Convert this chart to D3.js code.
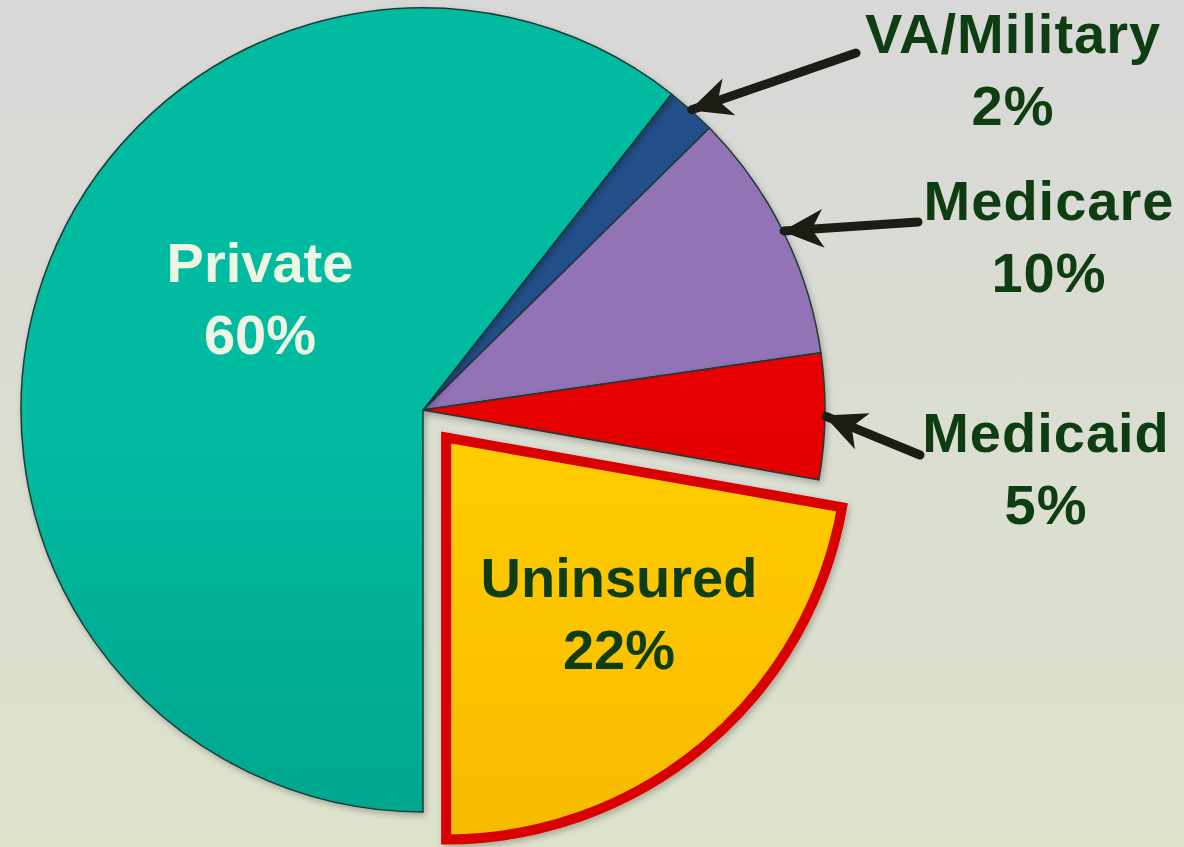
<!DOCTYPE html>
<html>
<head>
<meta charset="utf-8">
<title>Health coverage</title>
<script src="https://d3js.org/d3.v7.min.js"></script>
<style>
  html, body { margin: 0; padding: 0; }
  body { width: 1184px; height: 847px; overflow: hidden; }
  text { font-family: "Liberation Sans", Arial, sans-serif; font-weight: bold; }
</style>
</head>
<body>
<div id="container"></div>
<script>
// Data
const categories = ["VA/Military", "Medicare", "Medicaid", "Uninsured", "Private"]
const shares = [2, 10, 5, 22, 60]
const shareLabels = ["2%", "10%", "5%", "22%", "60%"]

const w = 1184
const h = 847
const cx = 423
const cy = 410
const r = 402

const svg = d3.select("#container")
    .append("svg")
    .attr("width", w)
    .attr("height", h)

const defs = svg.append("defs")

// background gradient
const bg = defs.append("linearGradient").attr("id", "bg")
    .attr("x1", 0).attr("y1", 0).attr("x2", 0).attr("y2", 1)
bg.append("stop").attr("offset", "0%").attr("stop-color", "#d8d8d8")
bg.append("stop").attr("offset", "100%").attr("stop-color", "#dde3cb")

svg.append("rect").attr("width", w).attr("height", h).attr("fill", "url(#bg)")

// slice gradients (top -> bottom)
const sliceColors = {
    "VA/Military": ["#23508a", "#1c3f70"],
    "Medicare": ["#9273b6", "#785a98"],
    "Medicaid": ["#e60000", "#c80000"],
    "Uninsured": ["#ffcc00", "#efa800"],
    "Private": ["#00bba0", "#00917c"]
}
categories.forEach((c, i) => {
    const g = defs.append("linearGradient").attr("id", "grad" + i)
        .attr("gradientUnits", "userSpaceOnUse")
        .attr("x1", 0).attr("y1", cy - r).attr("x2", 0).attr("y2", cy + r)
    g.append("stop").attr("offset", "0%").attr("stop-color", sliceColors[c][0])
    g.append("stop").attr("offset", "100%").attr("stop-color", sliceColors[c][1])
})

const shadow = defs.append("filter").attr("id", "shadow")
    .attr("x", "-10%").attr("y", "-10%").attr("width", "120%").attr("height", "120%")
shadow.append("feDropShadow").attr("dx", 2).attr("dy", 3).attr("stdDeviation", 3)
    .attr("flood-color", "#000").attr("flood-opacity", 0.25)

const total = d3.sum(shares)
const start = Math.PI - d3.sum(shares.slice(0, 4)) / total * 2 * Math.PI

const pie = d3.pie()
    .sort(null)
    .value(d => d.value)
    .startAngle(start)
    .endAngle(start + 2 * Math.PI)

const data = categories.map((c, i) => ({ name: c, value: shares[i], label: shareLabels[i], idx: i }))
const arcs = pie(data)
const arc = d3.arc().innerRadius(0).outerRadius(r)

const pieG = svg.append("g").attr("transform", `translate(${cx},${cy})`)

const explode = 36
pieG.selectAll("path")
    .data(arcs)
    .enter()
    .append("path")
    .attr("d", arc)
    .attr("transform", d => {
        if (d.data.name !== "Uninsured") return null
        const a = (d.startAngle + d.endAngle) / 2
        return `translate(${Math.sin(a) * explode},${-Math.cos(a) * explode})`
    })
    .attr("fill", d => `url(#grad${d.data.idx})`)
    .attr("stroke", d => d.data.name === "Uninsured" ? "#d80000" : "#1d3a35")
    .attr("stroke-width", d => d.data.name === "Uninsured" ? 10 : 1.5)
    .attr("stroke-linejoin", "miter")
    .attr("filter", "url(#shadow)")

// labels inside slices
const inner = [
    { name: "Private", x: 260, y: 282, color: "#eef5e2" },
    { name: "Uninsured", x: 619, y: 597, color: "#0f3d12" }
]
inner.forEach(t => {
    const d = data.find(e => e.name === t.name)
    const tx = svg.append("text")
        .attr("x", t.x).attr("y", t.y)
        .attr("text-anchor", "middle")
        .attr("fill", t.color)
        .style("font-size", "56px")
    tx.append("tspan").attr("x", t.x).text(d.name)
    tx.append("tspan").attr("x", t.x).attr("dy", 72).text(d.label)
})

// outside labels with arrows
const outside = [
    { name: "VA/Military", x: 1013, y: 53, tail: [856, 53] },
    { name: "Medicare", x: 1049, y: 220, tail: [918, 222] },
    { name: "Medicaid", x: 1046, y: 452, tail: [920, 455] }
]

defs.append("marker").attr("id", "head")
    .attr("viewBox", "0 0 10 10")
    .attr("refX", 9.5).attr("refY", 5)
    .attr("markerWidth", 4.6).attr("markerHeight", 4.6)
    .attr("orient", "auto")
    .attr("markerUnits", "strokeWidth")
    .append("path").attr("d", "M0,0.3 L10,5 L0,9.7 L2.8,5 Z").attr("fill", "#1c1c14")

outside.forEach(t => {
    const a = arcs.find(e => e.data.name === t.name)
    const m = (a.startAngle + a.endAngle) / 2
    const tip = [cx + Math.sin(m) * (r + 1), cy - Math.cos(m) * (r + 1)]
    svg.append("line")
        .attr("x1", t.tail[0]).attr("y1", t.tail[1])
        .attr("x2", tip[0]).attr("y2", tip[1])
        .attr("stroke", "#1c1c14")
        .attr("stroke-width", 9)
        .attr("stroke-linecap", "round")
        .attr("marker-end", "url(#head)")

    const tx = svg.append("text")
        .attr("x", t.x).attr("y", t.y)
        .attr("text-anchor", "middle")
        .attr("fill", "#0f3d12")
        .style("font-size", "56px")
        .style("letter-spacing", "1px")
    tx.append("tspan").attr("x", t.x).text(a.data.name)
    tx.append("tspan").attr("x", t.x).attr("dy", 72).text(a.data.label)
})
</script>
</body>
</html>
